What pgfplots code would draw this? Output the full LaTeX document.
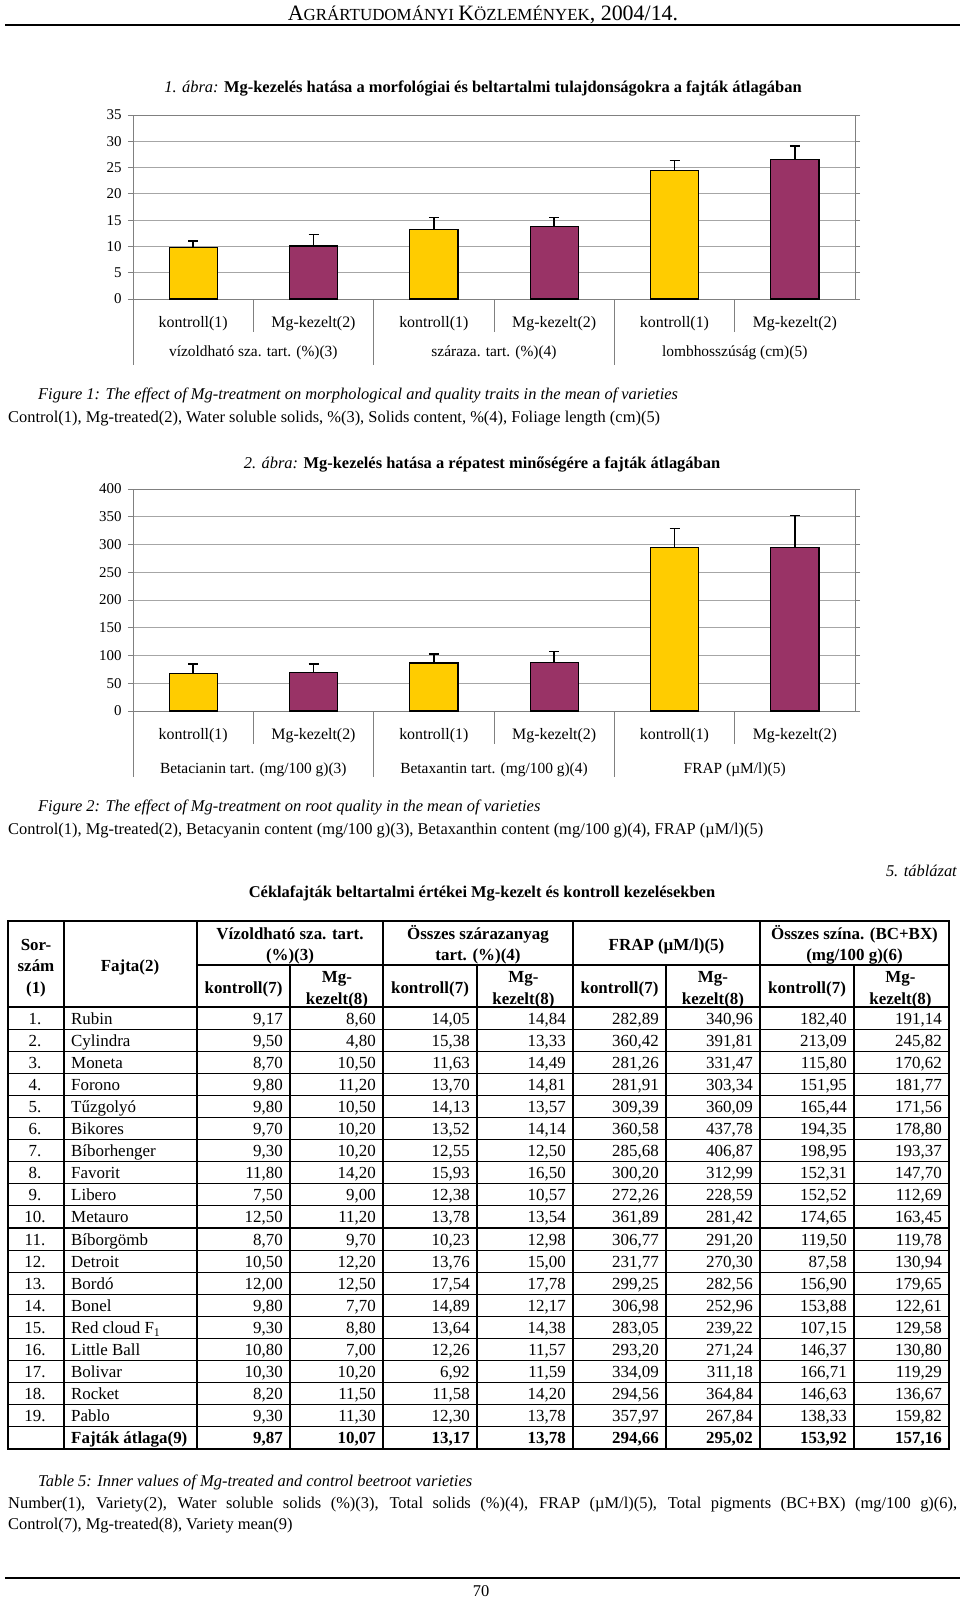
\documentclass[border=0pt]{standalone}
\usepackage{pgfplots}
\pgfplotsset{compat=1.18}
\usepackage{fontspec}
\setmainfont{Liberation Serif}

\definecolor{barY}{HTML}{FFCC00}
\definecolor{barM}{HTML}{993366}
\definecolor{gridg}{HTML}{A6A6A6}
\newcommand\fs[1]{\fontsize{#1}{#1}\selectfont}

\pgfplotsset{beet/.style={
    scale only axis, width=722bp, anchor=south west,
    xmin=-0.5, xmax=5.5, ymin=0, xtick=\empty,
    ymajorgrids, grid style={gridg, line width=0.8bp},
    axis line style={gray, line width=0.8bp},
    ytick style={gray, line width=0.8bp}, tick align=outside, major tick length=5bp,
    yticklabel style={font=\fs{15}, xshift=-3bp, /pgf/number format/assume math mode=true},
    ybar, bar width=0.4, clip=false},
  bars/.style={fill=#1, draw=black, line width=1.2bp, bar shift=0pt,
    error bars/.cd, y dir=plus, y explicit, error mark=-,
    error bar style={black, line width=1.4bp},
    error mark options={black, rotate=90, mark size=5bp, line width=1.4bp}}}

\begin{document}
\begin{tikzpicture}
\useasboundingbox (0,0) rectangle (960bp,-1599bp);

% 1. abra
\begin{axis}[beet, at={(133bp,-299bp)}, height=184bp, ymax=35, ytick={0,5,...,35}]
\addplot[bars=barY] coordinates {(0,9.87) +- (0,1.15) (2,13.17) +- (0,2.3) (4,24.5) +- (0,1.9)};
\addplot[bars=barM] coordinates {(1,10.07) +- (0,2.25) (3,13.78) +- (0,1.7) (5,26.5) +- (0,2.6)};
\end{axis}

% 2. abra
\begin{axis}[beet, at={(133bp,-711bp)}, height=222bp, ymax=400, ytick={0,50,...,400}]
\addplot[bars=barY] coordinates {(0,67.5) +- (0,17.5) (2,86.4) +- (0,16.6) (4,294.66) +- (0,34.3)};
\addplot[bars=barM] coordinates {(1,69.5) +- (0,15.5) (3,87.7) +- (0,19.3) (5,295.02) +- (0,57)};
\end{axis}

\begin{scope}[x=1bp, y=-1bp, every node/.style={inner sep=0}]
% page header
\node[anchor=base] at (483,20) {\fs{22}A\fs{17}GRÁRTUDOMÁNYI \fs{22}K\fs{17}ÖZLEMÉNYEK\fs{22}, 2004/14.};
\draw[line width=1.5bp] (5,25) -- (960,25);

% chart titles and captions
\node[anchor=base] at (483,92) {\fs{16.5}\textit{1. ábra:} \textbf{Mg-kezelés hatása a morfológiai és beltartalmi tulajdonságokra a fajták átlagában}};
\node[anchor=base west] at (38,399) {\fs{16.5}\itshape Figure 1: The effect of Mg-treatment on morphological and quality traits in the mean of varieties};
\node[anchor=base west] at (8,422) {\fs{16.5}Control(1), Mg-treated(2), Water soluble solids, \%(3), Solids content, \%(4), Foliage length (cm)(5)};
\node[anchor=base] at (482,468) {\fs{16.5}\textit{2. ábra:} \textbf{Mg-kezelés hatása a répatest minőségére a fajták átlagában}};
\node[anchor=base west] at (38,811) {\fs{16.5}\itshape Figure 2: The effect of Mg-treatment on root quality in the mean of varieties};
\node[anchor=base west] at (8,834) {\fs{16.5}Control(1), Mg-treated(2), Betacyanin content (mg/100 g)(3), Betaxanthin content (mg/100 g)(4), FRAP (µM/l)(5)};

% category axes below the charts
\foreach \yz in {299, 711} {
  \foreach \xs in {253.3,494,734.7} \draw[gray, line width=0.8bp] (\xs,\yz) -- ++(0,33);
  \foreach \xs in {133,373.7,614.3} \draw[gray, line width=0.8bp] (\xs,\yz) -- ++(0,66);
  \foreach \xc/\lab in {193.2/kontroll(1),313.5/Mg-kezelt(2),433.8/kontroll(1),554.2/Mg-kezelt(2),674.5/kontroll(1),794.8/Mg-kezelt(2)}
    \node[anchor=base] at (\xc,\yz+28) {\fs{16}\lab};
}
\node[anchor=base] at (253.3,356) {\fs{15.5}vízoldható sza. tart. (\%)(3)};
\node[anchor=base] at (494,356) {\fs{15.5}száraza. tart. (\%)(4)};
\node[anchor=base] at (734.7,356) {\fs{15.5}lombhosszúság (cm)(5)};
\node[anchor=base] at (253.3,773) {\fs{15.5}Betacianin tart. (mg/100 g)(3)};
\node[anchor=base] at (494,773) {\fs{15.5}Betaxantin tart. (mg/100 g)(4)};
\node[anchor=base] at (734.7,773) {\fs{15.5}FRAP (µM/l)(5)};

% table
\node[anchor=base east] at (957,876) {\fs{16.5}\itshape 5. táblázat};
\node[anchor=base] at (482,897) {\fs{16.5}\bfseries Céklafajták beltartalmi értékei Mg-kezelt és kontroll kezelésekben};

\foreach \yl in {1029.1,1051.2,...,1440} \draw[line width=1.1bp] (8,\yl) -- (949,\yl);
\draw[line width=1.1bp] (197,965) -- (949,965);
\draw[line width=1.4bp] (8,1007) -- (949,1007);
\draw[line width=1.6bp] (8,921) rectangle (949,1449);
\foreach \xl in {64,197,383,573,760} \draw[line width=1.1bp] (\xl,921) -- (\xl,1449);
\foreach \xl in {290,477,666,854} \draw[line width=1.1bp] (\xl,965) -- (\xl,1449);

\begin{scope}[every node/.append style={font=\fs{17}\bfseries}]
\node[anchor=base] at (36,950) {Sor-};
\node[anchor=base] at (36,971) {szám};
\node[anchor=base] at (36,993) {(1)};
\node[anchor=base] at (130,971) {Fajta(2)};
\node[anchor=base] at (290,939) {Vízoldható sza. tart.};
\node[anchor=base] at (290,960) {(\%)(3)};
\node[anchor=base] at (478,939) {Összes szárazanyag};
\node[anchor=base] at (478,960) {tart. (\%)(4)};
\node[anchor=base] at (666.5,950) {FRAP (µM/l)(5)};
\node[anchor=base] at (854.5,939) {Összes szína. (BC+BX)};
\node[anchor=base] at (854.5,960) {(mg/100 g)(6)};
\foreach \xc in {243.5,430,619.5,807} {
  \node[anchor=base] at (\xc,993) {kontroll(7)};
  \node[anchor=base] at (\xc+93.5,982) {Mg-};
  \node[anchor=base] at (\xc+93.5,1004) {kezelt(8)};
}
\end{scope}

\foreach \k/\nm/\va/\vb/\vc/\vd/\ve/\vf/\vg/\vh in {
  1/Rubin/9.17/8.60/14.05/14.84/282.89/340.96/182.40/191.14,
  2/Cylindra/9.50/4.80/15.38/13.33/360.42/391.81/213.09/245.82,
  3/Moneta/8.70/10.50/11.63/14.49/281.26/331.47/115.80/170.62,
  4/Forono/9.80/11.20/13.70/14.81/281.91/303.34/151.95/181.77,
  5/Tűzgolyó/9.80/10.50/14.13/13.57/309.39/360.09/165.44/171.56,
  6/Bikores/9.70/10.20/13.52/14.14/360.58/437.78/194.35/178.80,
  7/Bíborhenger/9.30/10.20/12.55/12.50/285.68/406.87/198.95/193.37,
  8/Favorit/11.80/14.20/15.93/16.50/300.20/312.99/152.31/147.70,
  9/Libero/7.50/9.00/12.38/10.57/272.26/228.59/152.52/112.69,
  10/Metauro/12.50/11.20/13.78/13.54/361.89/281.42/174.65/163.45,
  11/Bíborgömb/8.70/9.70/10.23/12.98/306.77/291.20/119.50/119.78,
  12/Detroit/10.50/12.20/13.76/15.00/231.77/270.30/87.58/130.94,
  13/Bordó/12.00/12.50/17.54/17.78/299.25/282.56/156.90/179.65,
  14/Bonel/9.80/7.70/14.89/12.17/306.98/252.96/153.88/122.61,
  15/{Red cloud F\textsubscript{1}}/9.30/8.80/13.64/14.38/283.05/239.22/107.15/129.58,
  16/Little Ball/10.80/7.00/12.26/11.57/293.20/271.24/146.37/130.80,
  17/Bolivar/10.30/10.20/6.92/11.59/334.09/311.18/166.71/119.29,
  18/Rocket/8.20/11.50/11.58/14.20/294.56/364.84/146.63/136.67,
  19/Pablo/9.30/11.30/12.30/13.78/357.97/267.84/138.33/159.82,
  20/\textbf{Fajták átlaga(9)}/9.87/10.07/13.17/13.78/294.66/295.02/153.92/157.16} {
  \pgfmathsetmacro\yy{1007+22.1*(\k-0.5)+6}
  \ifnum\k<20 \node[anchor=base] at (35,\yy) {\fs{17}\k.};\fi
  \node[anchor=base west] at (71,\yy) {\fs{17}\nm};
  \foreach \v/\xr in {\va/283,\vb/376,\vc/470,\vd/566,\ve/659,\vf/753,\vg/847,\vh/942}
    \node[anchor=base east] at (\xr,\yy) {\fs{17}\ifnum\k=20 \bfseries\fi
      \pgfmathprintnumber[fixed,fixed zerofill,precision=2,use comma,assume math mode=true]{\v}};
}

% table caption
\node[anchor=base west] at (38,1486) {\fs{16.5}\itshape Table 5: Inner values of Mg-treated and control beetroot varieties};
\node[anchor=base west, text width=949bp, align=justify, font=\fontsize{16.5}{21.5}\selectfont] at (8,1508) {%
  Number(1), Variety(2), Water soluble solids (\%)(3), Total solids (\%)(4), FRAP (µM/l)(5), Total pigments (BC+BX) (mg/100 g)(6),\linebreak
  Control(7), Mg-treated(8), Variety mean(9)\par};

% page footer
\draw[line width=1.5bp] (5,1578) -- (960,1578);
\node[anchor=base] at (481,1596) {\fs{16.5}70};
\end{scope}
\end{tikzpicture}
\end{document}
